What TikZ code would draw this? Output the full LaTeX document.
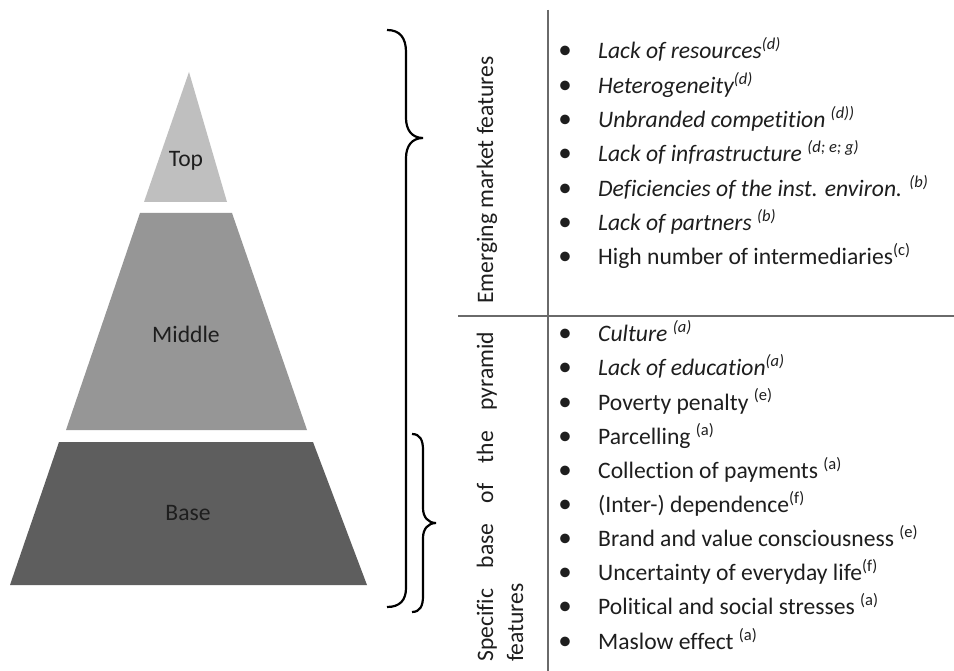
\documentclass[tikz,border=0pt]{standalone}
\usepackage{fontspec}
\setmainfont[Ligatures={NoCommon}]{Carlito}
\definecolor{ctop}{HTML}{BFBFBF}
\definecolor{cmid}{HTML}{969696}
\definecolor{cbase}{HTML}{5E5E5E}
\definecolor{ink}{HTML}{1E1E1E}
\definecolor{rule}{HTML}{6A6A6A}
\begin{document}
\begin{tikzpicture}[x=1pt,y=-1pt,
  txt/.style={font=\fontsize{23.6}{28}\selectfont, text=ink, inner sep=0pt},
  item/.style={txt, anchor=base west},
  bul/.style={txt, anchor=base, font=\fontsize{27}{28}\selectfont},
  lbl/.style={txt, anchor=base},
  side/.style={txt, rotate=90},
  brace/.style={line width=2.2pt, black},
  sep/.style={line width=1.6pt, rule}]
\useasboundingbox (0,0) rectangle (954,671);
\fill[white] (0,0) rectangle (954,671);
% pyramid
\fill[ctop] (189,72) -- (227,202) -- (144,202) -- cycle;
\fill[cmid] (140,213) -- (232,213) -- (307,430) -- (66,430) -- cycle;
\fill[cbase] (59,442) -- (313,442) -- (367,585) -- (10,585) -- cycle;
\node[lbl] (ltop) at (186,167) {Top};
\node[lbl] (lmid) at (186,343) {Middle};
\node[lbl] (lbase) at (188,520) {Base};
% braces
\draw[brace] (387,30) .. controls (400,30) and (406,38) .. (406,52) -- (406,118)
  .. controls (406,130) and (412,138) .. (423,138)
  .. controls (412,138) and (406,146) .. (406,158) -- (406,588)
  .. controls (406,600) and (400,607) .. (387,607);
\draw[brace] (412,434) .. controls (420,434) and (423,440) .. (423,450) -- (423,508)
  .. controls (423,517) and (428,523) .. (436,523)
  .. controls (428,523) and (423,529) .. (423,538) -- (423,596)
  .. controls (423,606) and (420,612) .. (412,612);
% table rules
\coordinate (vt) at (548,10);
\coordinate (vb) at (548,671);
\coordinate (hl) at (458,316);
\coordinate (hr) at (954,316);
\draw[sep] (vt) -- (vb);
\draw[sep] (hl) -- (hr);
% side labels
\node[side, anchor=base] (emf) at (493,180) {Emerging market features};
\node[side, anchor=base west] (sb1) at (493,662) {\makebox[330pt][s]{Specific base of the pyramid}};
\node[side, anchor=base west] (sb2) at (523,662) {features};
% upper list
\foreach \i/\t in {
  0/{\itshape Lack of resources\textsuperscript{(d)}},
  1/{\itshape Heterogeneity\textsuperscript{(d)}},
  2/{\itshape Unbranded competition \textsuperscript{(d))}},
  3/{\itshape Lack of infrastructure \textsuperscript{(d; e; g)}},
  4/{\itshape Deficiencies of the inst. environ. \textsuperscript{(b)}},
  5/{\itshape Lack of partners \textsuperscript{(b)}},
  6/{High number of intermediaries\textsuperscript{(c)}}}{
  \node[bul] (ub\i) at (565,59+34.33*\i) {•};
  \node[item] (ut\i) at (598,59+34.33*\i) {\t};
}
% lower list
\foreach \i/\t in {
  0/{\itshape Culture \textsuperscript{(a)}},
  1/{\itshape Lack of education\textsuperscript{(a)}},
  2/{Poverty penalty \textsuperscript{(e)}},
  3/{Parcelling \textsuperscript{(a)}},
  4/{Collection of payments \textsuperscript{(a)}},
  5/{(Inter-) dependence\textsuperscript{(f)}},
  6/{Brand and value consciousness \textsuperscript{(e)}},
  7/{Uncertainty of everyday life\textsuperscript{(f)}},
  8/{Political and social stresses \textsuperscript{(a)}},
  9/{Maslow effect \textsuperscript{(a)}}}{
  \node[bul] (lb\i) at (565,341.7+34.15*\i) {•};
  \node[item] (lt\i) at (598,341.7+34.15*\i) {\t};
}
\end{tikzpicture}
\end{document}
